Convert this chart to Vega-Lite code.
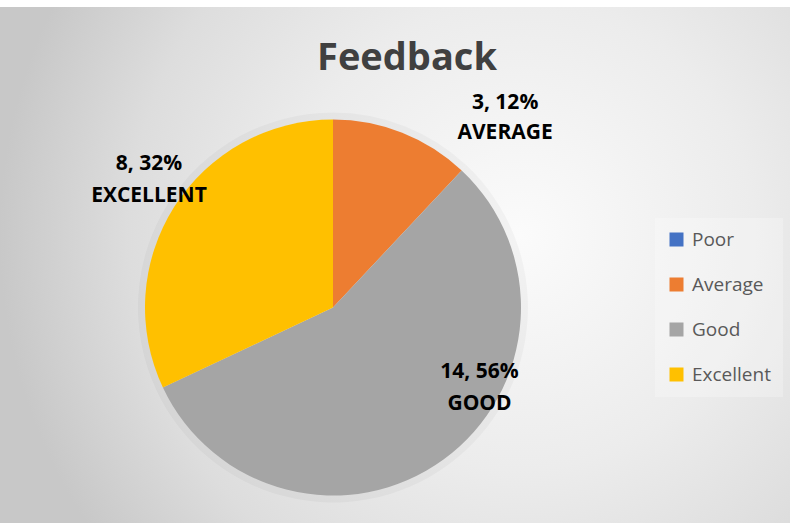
{
  "$schema": "https://vega.github.io/schema/vega-lite/v6.json",
  "width": 914,
  "height": 601,
  "autosize": {"type": "none"},
  "padding": {"left": -124, "top": 7, "right": 0, "bottom": -85},
  "background": "white",
  "view": {
    "stroke": null,
    "fill": {
      "gradient": "radial",
      "x1": 0.705, "y1": 0.421, "r1": 0,
      "x2": 0.705, "y2": 0.421, "r2": 0.57,
      "stops": [
        {"offset": 0, "color": "#fbfbfb"},
        {"offset": 0.45, "color": "#ececec"},
        {"offset": 0.75, "color": "#dddddd"},
        {"offset": 1, "color": "#c8c8c8"}
      ]
    }
  },
  "title": {
    "text": "Feedback",
    "font": "Open Sans",
    "fontSize": 38,
    "fontWeight": "bold",
    "color": "#404040",
    "anchor": "middle",
    "dx": 74,
    "offset": -71
  },
  "data": {
    "values": [
      {"category": "Poor", "count": 0, "label": ""},
      {"category": "Average", "count": 3, "label": "3, 12%\nAVERAGE"},
      {"category": "Good", "count": 14, "label": "14, 56%\nGOOD"},
      {"category": "Excellent", "count": 8, "label": "8, 32%\nEXCELLENT"}
    ]
  },
  "transform": [{"window": [{"op": "row_number", "as": "idx"}]}],
  "layer": [
    {
      "mark": {"type": "arc", "radius": 195, "color": "#000000", "opacity": 0.03},
      "encoding": {
        "theta": {"field": "count", "type": "quantitative", "stack": true},
        "order": {"field": "idx", "type": "quantitative"}
      }
    },
    {
      "mark": {"type": "arc", "radius": 188},
      "encoding": {
        "theta": {"field": "count", "type": "quantitative", "stack": true},
        "order": {"field": "idx", "type": "quantitative"},
        "color": {
          "field": "category",
          "type": "nominal",
          "sort": null,
          "scale": {
            "domain": ["Poor", "Average", "Good", "Excellent"],
            "range": ["#4472C4", "#ED7D31", "#A5A5A5", "#FFC000"]
          },
          "legend": {
            "orient": "none",
            "legendX": 779,
            "legendY": 211,
            "title": null,
            "symbolType": "square",
            "symbolSize": 196,
            "symbolStrokeWidth": 0,
            "symbolOpacity": 1,
            "labelFont": "Open Sans",
            "labelFontSize": 19,
            "labelColor": "#595959",
            "labelOffset": 6,
            "rowPadding": 25,
            "padding": 12,
            "fillColor": "rgba(255,255,255,0.25)"
          }
        }
      }
    },
    {
      "mark": {"type": "text", "radius": 204, "dx": 97, "dy": -15, "font": "Open Sans", "fontSize": 21, "fontWeight": "bold", "lineBreak": "\n", "lineHeight": 30, "color": "#000000", "align": "center", "baseline": "middle"},
      "encoding": {
        "theta": {"field": "count", "type": "quantitative", "stack": true},
        "order": {"field": "idx", "type": "quantitative"},
        "detail": {"field": "category", "type": "nominal"},
        "text": {"condition": {"test": "datum.category === 'Average'", "field": "label"}, "value": ""}
      }
    },
    {
      "mark": {"type": "text", "radius": 120, "dx": 76, "dy": -33, "font": "Open Sans", "fontSize": 21, "fontWeight": "bold", "lineBreak": "\n", "lineHeight": 32, "color": "#000000", "align": "center", "baseline": "middle"},
      "encoding": {
        "theta": {"field": "count", "type": "quantitative", "stack": true},
        "order": {"field": "idx", "type": "quantitative"},
        "detail": {"field": "category", "type": "nominal"},
        "text": {"condition": {"test": "datum.category === 'Good'", "field": "label"}, "value": ""}
      }
    },
    {
      "mark": {"type": "text", "radius": 225, "dx": 6, "dy": -23, "font": "Open Sans", "fontSize": 21, "fontWeight": "bold", "lineBreak": "\n", "lineHeight": 32, "color": "#000000", "align": "center", "baseline": "middle"},
      "encoding": {
        "theta": {"field": "count", "type": "quantitative", "stack": true},
        "order": {"field": "idx", "type": "quantitative"},
        "detail": {"field": "category", "type": "nominal"},
        "text": {"condition": {"test": "datum.category === 'Excellent'", "field": "label"}, "value": ""}
      }
    }
  ]
}
